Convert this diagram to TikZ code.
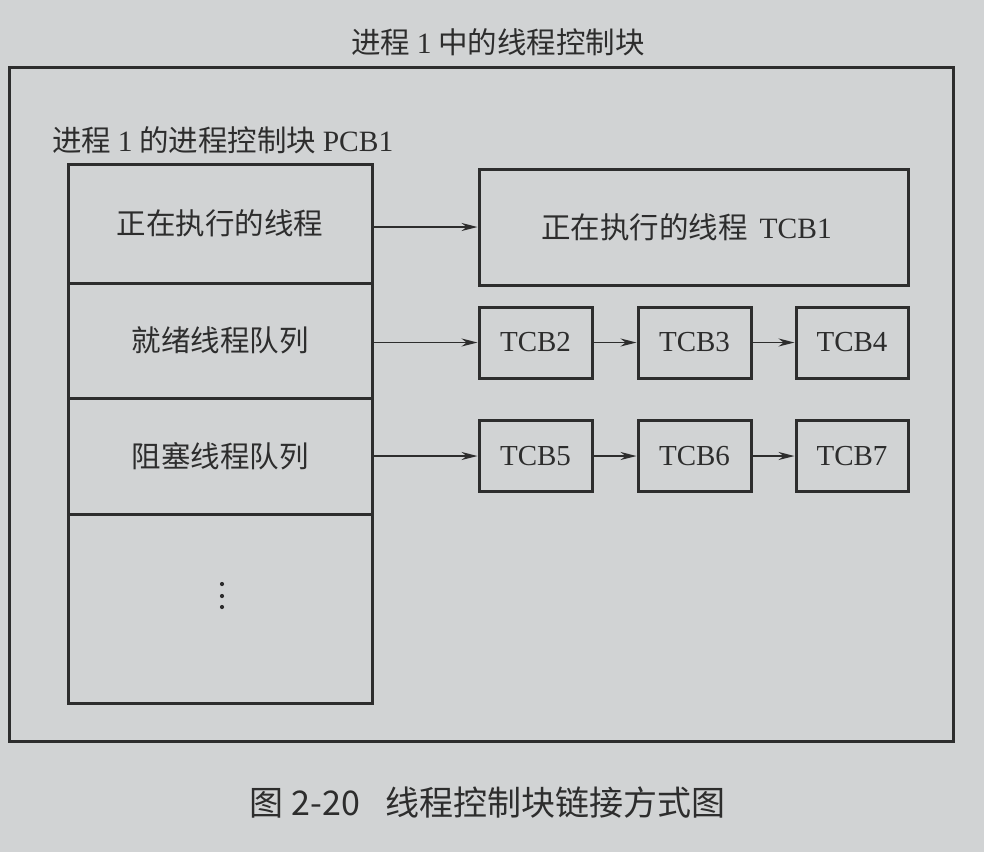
\documentclass[tikz,border=0pt]{standalone}
\usepackage{fontspec}
\setmainfont{Liberation Serif}
\newfontfamily\cjk{Noto Sans CJK SC}
\usetikzlibrary{arrows.meta}
\definecolor{bg}{RGB}{209,211,212}
\definecolor{ink}{RGB}{45,45,45}
\begin{document}
\begin{tikzpicture}[x=1pt,y=-1pt,
  box/.style={draw=ink,line width=3pt,rectangle,inner sep=0pt,text=ink,font=\fontsize{29.5}{34}\selectfont},
  tcb/.style={box,minimum width=113pt,minimum height=71pt,font=\fontsize{29}{34}\selectfont},
  lbl/.style={text=ink,inner sep=0pt,font=\fontsize{29.5}{34}\selectfont},
  arr/.style={draw=ink,line width=1.6pt,-{Stealth[length=16pt,width=8pt]}}]
\fill[bg] (0,0) rectangle (984,852);
\useasboundingbox (0,0) rectangle (984,852);
% title
\node[lbl] (title) at (498,42) {\cjk 进程 {\rmfamily 1} 中的线程控制块};
% outer frame
\node[box,minimum width=944pt,minimum height=674pt] (outer) at (481,404) {};
% PCB label
\node[lbl,anchor=west] (pcblabel) at (52,140) {\cjk 进程 {\rmfamily 1} 的进程控制块 {\rmfamily PCB1}};
% PCB rows
\node[box,minimum width=304pt,minimum height=119pt] (row1) at (220,223.5) {\cjk 正在执行的线程};
\node[box,minimum width=304pt,minimum height=115pt] (row2) at (220,340.5) {\cjk 就绪线程队列};
\node[box,minimum width=304pt,minimum height=116pt] (row3) at (220,456) {\cjk 阻塞线程队列};
\node[box,minimum width=304pt,minimum height=189pt] (row4) at (220,608.5) {};
\fill[ink] (222,584) circle (2.1pt) (222,596) circle (2.1pt) (222,607) circle (2.1pt);
% TCBs
\node[box,minimum width=429pt,minimum height=116pt] (tcb1) at (693.5,227) {\hspace*{-14pt}\cjk 正在执行的线程\hspace{12pt}{\rmfamily TCB1}};
\node[tcb] (tcb2) at (535.5,342.5) {TCB2};
\node[tcb] (tcb3) at (694.5,342.5) {TCB3};
\node[tcb,minimum width=112pt] (tcb4) at (852,342.5) {TCB4};
\node[tcb] (tcb5) at (535.5,456) {TCB5};
\node[tcb] (tcb6) at (694.5,456) {TCB6};
\node[tcb,minimum width=112pt] (tcb7) at (852,456) {TCB7};
% arrows
\draw[arr] (tcb1.west -| row1.east) -- (tcb1.west);
\draw[arr] (tcb2.west -| row2.east) -- (tcb2.west);
\draw[arr] (tcb5.west -| row3.east) -- (tcb5.west);
\draw[arr] (tcb2) -- (tcb3);
\draw[arr] (tcb3) -- (tcb4);
\draw[arr] (tcb5) -- (tcb6);
\draw[arr] (tcb6) -- (tcb7);
% caption
\node[lbl,font=\cjk\fontsize{34}{38}\selectfont] (cap) at (488,802) {图 2-20\hspace{26pt}线程控制块链接方式图};
\end{tikzpicture}
\end{document}
